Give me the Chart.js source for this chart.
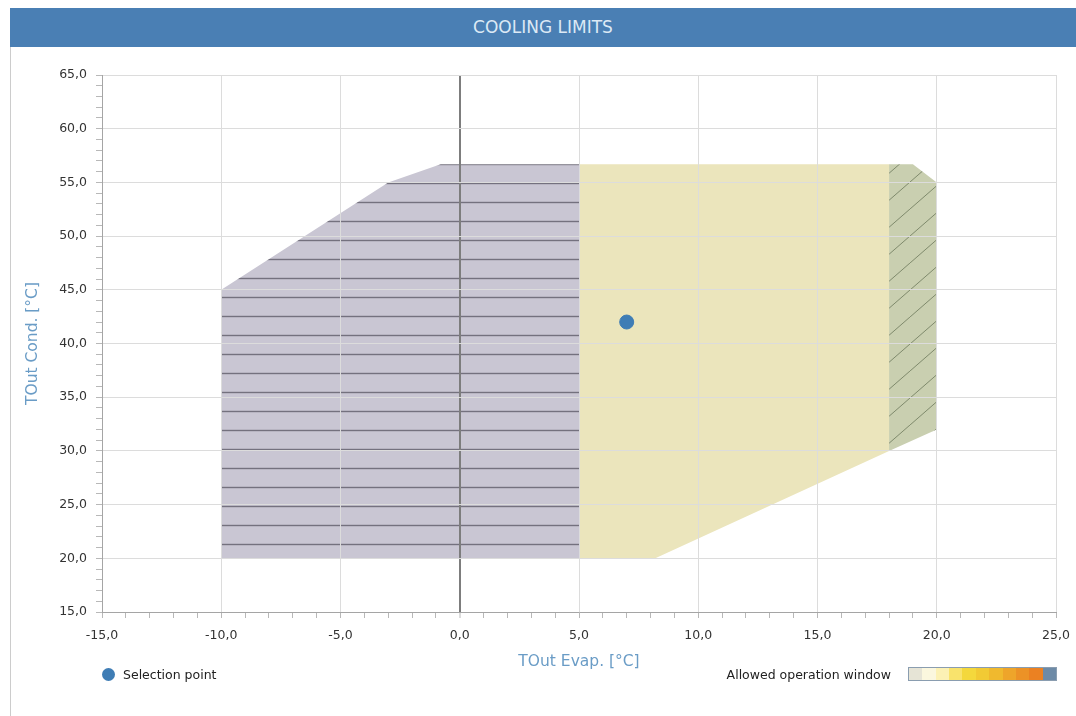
<!DOCTYPE html>
<html lang="en">
<head>
    <meta charset="UTF-8">
    <title>Cooling limits</title>
    <script src="https://cdn.jsdelivr.net/npm/chart.js"></script>
    <style>
        body { margin: 0; background: #fff; font-family: "DejaVu Sans", sans-serif; }
        .title-bar {
            position: absolute; left: 10px; top: 8px; width: 1066px; height: 39px;
            background: #4a7fb4;
            color: #dce9f5; font-size: 17px; line-height: 39px; text-align: center;
        }
        .panel {
            position: absolute; left: 10px; top: 47px; width: 1066px; height: 669px;
            border-left: 1px solid #cccccc; box-sizing: border-box;
        }
        #chart { position: absolute; left: 0; top: 0; }
        .legend { position: absolute; font-size: 12.5px; color: #222; line-height: 16px; }
        .dot { display: inline-block; width: 13px; height: 13px; border-radius: 50%; background: #3f7db5; vertical-align: -2px; margin-right: 8px; }
        .scale-box { position: absolute; left: 897px; top: 620px; width: 147px; height: 12px; border: 1px solid #8a9db0; display: flex; }
        .scale-box span { flex: 1; }
    </style>
</head>
<body>
    <div class="title-bar">COOLING LIMITS</div>
    <div class="panel">
        <canvas id="chart" width="1065" height="669"></canvas>
        <div class="legend" style="left:91px; top:620px;"><span class="dot"></span>Selection point</div>
        <div class="legend" style="right:185px; top:620px;">Allowed operation window</div>
        <div class="scale-box" id="scaleBox"></div>
    </div>
    <script>
        // axis ticks
        const xMajor = [-15, -10, -5, 0, 5, 10, 15, 20, 25];
        const yMajor = [15, 20, 25, 30, 35, 40, 45, 50, 55, 60, 65];

        // operation envelope polygons (TOut Evap, TOut Cond)
        const grayX = [-10, -10, -3, -0.8, 5, 5, -10];
        const grayY = [20, 45, 55, 56.7, 56.7, 20, 20];
        const yellowX = [5, 5, 18, 18, 8.2, 5];
        const yellowY = [20, 56.7, 56.7, 30, 20, 20];
        const greenX = [18, 18, 19, 20, 20, 18];
        const greenY = [30, 56.7, 56.7, 55, 32, 30];

        // selection point
        const pointX = [7];
        const pointY = [42];

        // colour steps of the legend bar
        const scaleColors = ['#e6e4d6', '#fbf7de', '#fcf1b4', '#f9e36c', '#f4d83c', '#f2ca34', '#f0b92e', '#eea52a', '#ec9226', '#eb8122', '#6d8aa6'];

        const toPoints = (xs, ys) => xs.map((x, i) => ({ x: x, y: ys[i] }));
        const fmt = v => v.toFixed(1).replace('.', ',');
        const clear = 'rgba(0,0,0,0)';

        // hatch patterns
        function hLines() {
            const c = document.createElement('canvas');
            c.width = 10; c.height = 19;
            const g = c.getContext('2d');
            g.fillStyle = '#c9c6d3';
            g.fillRect(0, 0, 10, 19);
            g.strokeStyle = '#74717e';
            g.lineWidth = 1.4;
            g.beginPath(); g.moveTo(0, 3.5); g.lineTo(10, 3.5); g.stroke();
            return g.createPattern(c, 'repeat');
        }
        function dLines() {
            const c = document.createElement('canvas');
            c.width = 31; c.height = 27;
            const g = c.getContext('2d');
            g.fillStyle = '#c9cfb0';
            g.fillRect(0, 0, 31, 27);
            g.strokeStyle = '#7f8a6c';
            g.lineWidth = 1;
            g.beginPath();
            g.moveTo(-1, 27.9); g.lineTo(32, -0.9);
            g.stroke();
            return g.createPattern(c, 'repeat');
        }

        const box = document.getElementById('scaleBox');
        scaleColors.forEach(col => {
            const s = document.createElement('span');
            s.style.background = col;
            box.appendChild(s);
        });

        const tickFont = { family: 'DejaVu Sans', size: 12.5 };
        const titleFont = { family: 'DejaVu Sans', size: 15.5 };

        new Chart(document.getElementById('chart'), {
            type: 'scatter',
            data: {
                datasets: [
                    {
                        label: 'Selection point',
                        data: toPoints(pointX, pointY),
                        backgroundColor: '#3f7db5',
                        borderColor: '#3f7db5',
                        pointRadius: 7,
                        order: 0
                    },
                    {
                        label: 'gray',
                        data: toPoints(grayX, grayY),
                        showLine: true,
                        fill: 'shape',
                        backgroundColor: hLines(),
                        borderWidth: 0,
                        pointRadius: 0,
                        order: 1
                    },
                    {
                        label: 'yellow',
                        data: toPoints(yellowX, yellowY),
                        showLine: true,
                        fill: 'shape',
                        backgroundColor: '#ebe5bc',
                        borderWidth: 0,
                        pointRadius: 0,
                        order: 2
                    },
                    {
                        label: 'green',
                        data: toPoints(greenX, greenY),
                        showLine: true,
                        fill: 'shape',
                        backgroundColor: dLines(),
                        borderWidth: 0,
                        pointRadius: 0,
                        order: 3
                    }
                ]
            },
            options: {
                responsive: false,
                animation: false,
                layout: { padding: { top: 28, right: 20, bottom: 40, left: 0 } },
                plugins: { legend: { display: false }, tooltip: { enabled: false } },
                scales: {
                    x: {
                        type: 'linear',
                        min: -15, max: 25,
                        afterFit: s => { s.height = 64; s.paddingRight = 0; s.paddingLeft = 0; },
                        ticks: {
                            stepSize: 1, autoSkip: false, maxRotation: 0, padding: 10,
                            color: '#333', font: tickFont,
                            callback: v => xMajor.includes(v) ? fmt(v) : ''
                        },
                        grid: {
                            z: 1,
                            color: c => !c.tick ? clear : (c.tick.value === 0 ? '#7d7d7d' : (xMajor.includes(c.tick.value) ? '#dcdcdc' : clear)),
                            lineWidth: c => (c.tick && c.tick.value === 0) ? 2 : 1,
                            tickColor: '#b8b8b8', tickWidth: 1, tickLength: 6
                        },
                        border: { color: '#a5a5a5', z: 2 },
                        title: {
                            display: true, text: 'TOut Evap. [°C]', color: '#6a9cc6',
                            font: titleFont, padding: { top: 0, bottom: 5 }
                        }
                    },
                    y: {
                        type: 'linear',
                        min: 15, max: 65,
                        afterFit: s => { s.width = 91; },
                        ticks: {
                            stepSize: 1, autoSkip: false, padding: 9,
                            color: '#333', font: tickFont,
                            callback: v => yMajor.includes(v) ? fmt(v) : ''
                        },
                        grid: {
                            z: 1,
                            color: c => !c.tick ? clear : (yMajor.includes(c.tick.value) ? '#dcdcdc' : clear),
                            tickColor: '#b8b8b8', tickLength: 6
                        },
                        border: { color: '#a5a5a5', z: 2 },
                        title: {
                            display: true, text: 'TOut Cond. [°C]', color: '#6a9cc6',
                            font: titleFont, padding: { top: 13, bottom: 0 }
                        }
                    }
                }
            }
        });
    </script>
</body>
</html>
